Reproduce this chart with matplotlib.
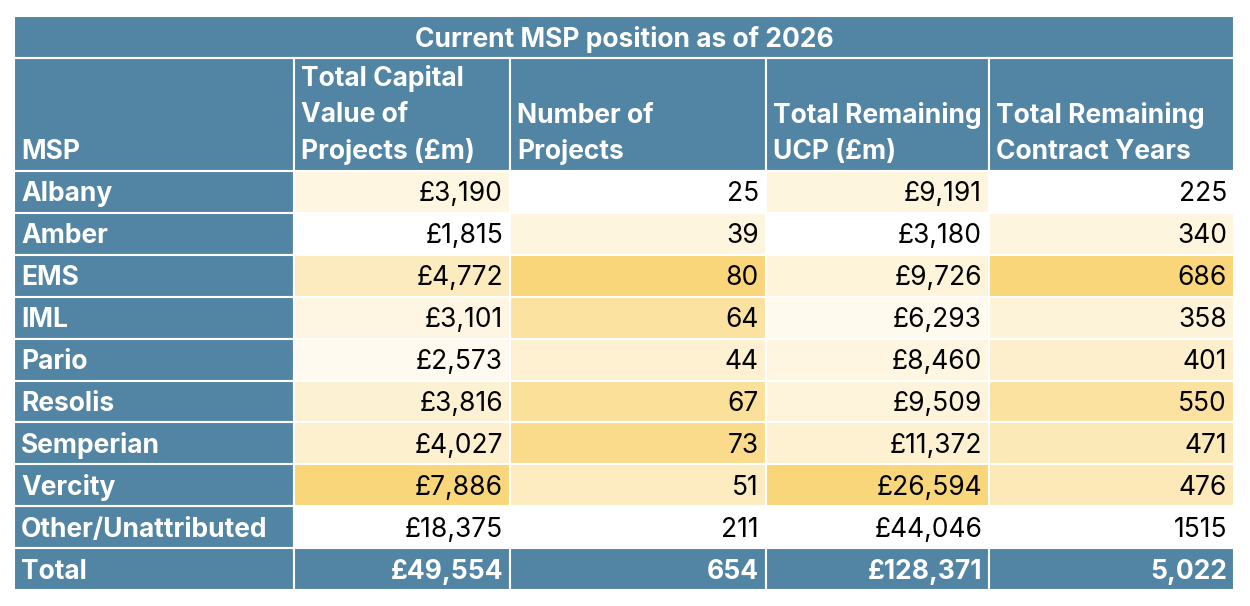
import matplotlib.pyplot as plt
from matplotlib.colors import LinearSegmentedColormap, Normalize
from matplotlib.patches import Rectangle

title = "Current MSP position as of 2026"
headers = ["MSP", "Total Capital\nValue of\nProjects (£m)", "Number of\nProjects",
           "Total Remaining\nUCP (£m)", "Total Remaining\nContract Years"]

msps = ["Albany", "Amber", "EMS", "IML", "Pario", "Resolis", "Semperian", "Vercity"]
capital = [3190, 1815, 4772, 3101, 2573, 3816, 4027, 7886]
projects = [25, 39, 80, 64, 44, 67, 73, 51]
ucp = [9191, 3180, 9726, 6293, 8460, 9509, 11372, 26594]
years = [225, 340, 686, 358, 401, 550, 471, 476]

other_label = "Other/Unattributed"
other_row = ["£18,375", "211", "£44,046", "1515"]
total_label = "Total"
total_row = ["£49,554", "654", "£128,371", "5,022"]

blue = "#5284A3"
cmap = LinearSegmentedColormap.from_list("scale", ["#FFFFFF", "#F9D67A"])

# layout in pixels
col_edges = [14, 294, 510, 766, 989, 1234]
title_top, head_top, body_top = 16, 58, 171
row_h = 41.9
fs = 19
dy = 2.5

fig = plt.figure(figsize=(12.5, 6.06), dpi=100)
ax = fig.add_axes([0, 0, 1, 1])
ax.set_xlim(0, 1250)
ax.set_ylim(606, 0)
ax.axis("off")

plt.rcParams["font.family"] = ["Inter", "DejaVu Sans"]


def cell(x0, x1, y0, y1, color):
    ax.add_patch(Rectangle((x0, y0), x1 - x0, y1 - y0, facecolor=color,
                           edgecolor="white", linewidth=1.5))


# title row
cell(col_edges[0], col_edges[-1], title_top, head_top, blue)
ax.text((col_edges[0] + col_edges[-1]) / 2, (title_top + head_top) / 2 + dy, title,
        ha="center", va="center", color="white", fontsize=fs, fontweight="bold")

# header row
for j, h in enumerate(headers):
    x0, x1 = col_edges[j], col_edges[j + 1]
    cell(x0, x1, head_top, body_top, blue)
    ax.text(x0 + 7, body_top - 6, h, ha="left", va="bottom", color="white",
            fontsize=fs, fontweight="bold", linespacing=1.5)

columns = [capital, projects, ucp, years]
fmts = ["£{:,}", "{}", "£{:,}", "{}"]

for i, name in enumerate(msps):
    y0 = body_top + i * row_h
    y1 = y0 + row_h
    cell(col_edges[0], col_edges[1], y0, y1, blue)
    ax.text(col_edges[0] + 7, (y0 + y1) / 2 + dy, name, ha="left", va="center",
            color="white", fontsize=fs, fontweight="bold")
    for j, vals in enumerate(columns):
        norm = Normalize(min(vals), max(vals))
        x0, x1 = col_edges[j + 1], col_edges[j + 2]
        cell(x0, x1, y0, y1, cmap(norm(vals[i])))
        ax.text(x1 - 7, (y0 + y1) / 2 + dy, fmts[j].format(vals[i]), ha="right",
                va="center", color="black", fontsize=fs)

# other row
y0 = body_top + len(msps) * row_h
y1 = y0 + row_h
cell(col_edges[0], col_edges[1], y0, y1, blue)
ax.text(col_edges[0] + 7, (y0 + y1) / 2 + dy, other_label, ha="left", va="center",
        color="white", fontsize=fs, fontweight="bold")
for j, s in enumerate(other_row):
    x0, x1 = col_edges[j + 1], col_edges[j + 2]
    cell(x0, x1, y0, y1, "white")
    ax.text(x1 - 7, (y0 + y1) / 2 + dy, s, ha="right", va="center",
            color="black", fontsize=fs)

# total row
y0 = y1
y1 = y0 + row_h
cell(col_edges[0], col_edges[1], y0, y1, blue)
ax.text(col_edges[0] + 7, (y0 + y1) / 2 + dy, total_label, ha="left", va="center",
        color="white", fontsize=fs, fontweight="bold")
for j, s in enumerate(total_row):
    x0, x1 = col_edges[j + 1], col_edges[j + 2]
    cell(x0, x1, y0, y1, blue)
    ax.text(x1 - 7, (y0 + y1) / 2 + dy, s, ha="right", va="center",
            color="white", fontsize=fs, fontweight="bold")

fig.savefig("out.png", dpi=100, facecolor="white")
